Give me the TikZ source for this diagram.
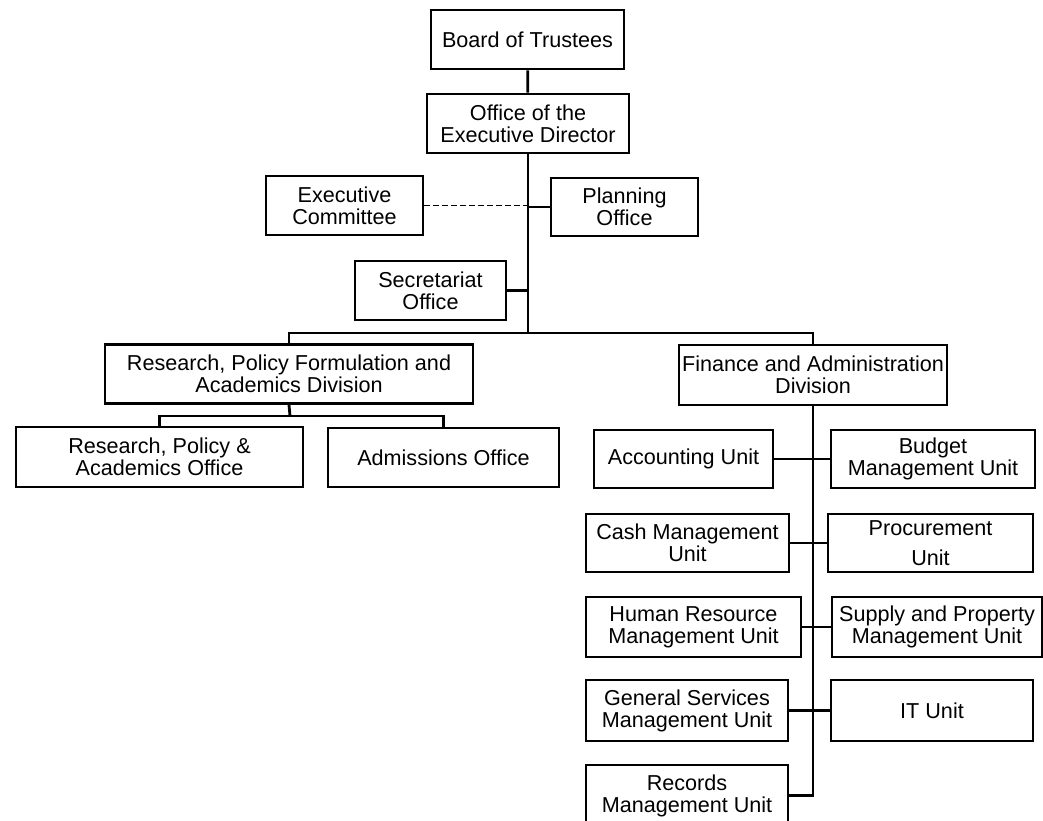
\documentclass[tikz,border=0pt]{standalone}
\usepackage{fontspec}
\setmainfont{Liberation Sans}
\usepackage{tikz}
\tikzstyle{unit}=[draw,line width=2.8pt,align=center,inner sep=0pt,font=\fontsize{21.6}{22}\selectfont]
\tikzstyle{edge} = [draw,line width=2.8pt]
\tikzstyle{advisory edge} = [draw,line width=1.8pt,dash pattern=on 6pt off 3pt]

\begin{document}
\begin{tikzpicture}[x=1pt,y=-1pt]
	\useasboundingbox (0,0) rectangle (1043,821);
	% First we draw the offices and units
	\foreach \pos/\name/\w/\h/\txt in {
		{(527.5,39.5)/board/193/59/{Board of Trustees}},
		{(528,123.5)/office/202/59/{Office of the\\Executive Director}},
		{(344.5,205.5)/excom/157/59/{Executive\\Committee}},
		{(624.5,207)/planning/147/58/{Planning\\Office}},
		{(430.5,290.5)/secretariat/151/59/{Secretariat\\Office}},
		{(289,374)/research/368/59/{Research, Policy Formulation and\\Academics Division}},
		{(813,375)/finance/268/60/{Finance and Administration\\Division}},
		{(159.5,457)/rpa/287/60/{Research, Policy \&\\Academics Office}},
		{(443.5,457.5)/admissions/231/59/{Admissions Office}},
		{(683.5,459)/accounting/179/58/{Accounting Unit}},
		{(933,459)/budget/204/58/{Budget\\Management Unit}},
		{(687.5,543)/cash/203/58/{Cash Management\\Unit}},
		{(930.5,543)/procurement/205/58/{Procurement\\[8pt]Unit}},
		{(693.5,627)/hr/215/60/{Human Resource\\Management Unit}},
		{(937,627)/supply/210/60/{Supply and Property\\Management Unit}},
		{(687,710.5)/gsm/202/61/{General Services\\Management Unit}},
		{(932,710.5)/it/202/61/{IT Unit}},
		{(687,795.5)/records/202/61/{Records\\Management Unit}}}
	\node[unit,minimum width=\w pt,minimum height=\h pt] (\name) at \pos {\txt};

	% Bus points of the tree
	\coordinate (bus) at (528,333);
	\coordinate (subbus) at (290,416);

	% Connect the top of the chart
	\path[edge] (board) -- (office);
	\path[edge] (office.south) -- (bus);
	\path[advisory edge] (excom.east) -- (excom.east -| office.south);
	\path[edge] (planning.west) -- (planning.west -| office.south);
	\path[edge] (secretariat.east) -- (secretariat.east -| office.south);
	\path[edge] (research.north) |- (bus) -| (finance.north);

	% Research side
	\path[edge] (research.south) -- (subbus);
	\path[edge] (rpa.north) |- (subbus) -| (admissions.north);

	% Finance side
	\path[edge] (records.east) -| (finance.south);
	\foreach \left/\right in {accounting/budget, cash/procurement, hr/supply, gsm/it}
	\path[edge] (\left.east) -- (\left.east -| \right.west);
\end{tikzpicture}
\end{document}
